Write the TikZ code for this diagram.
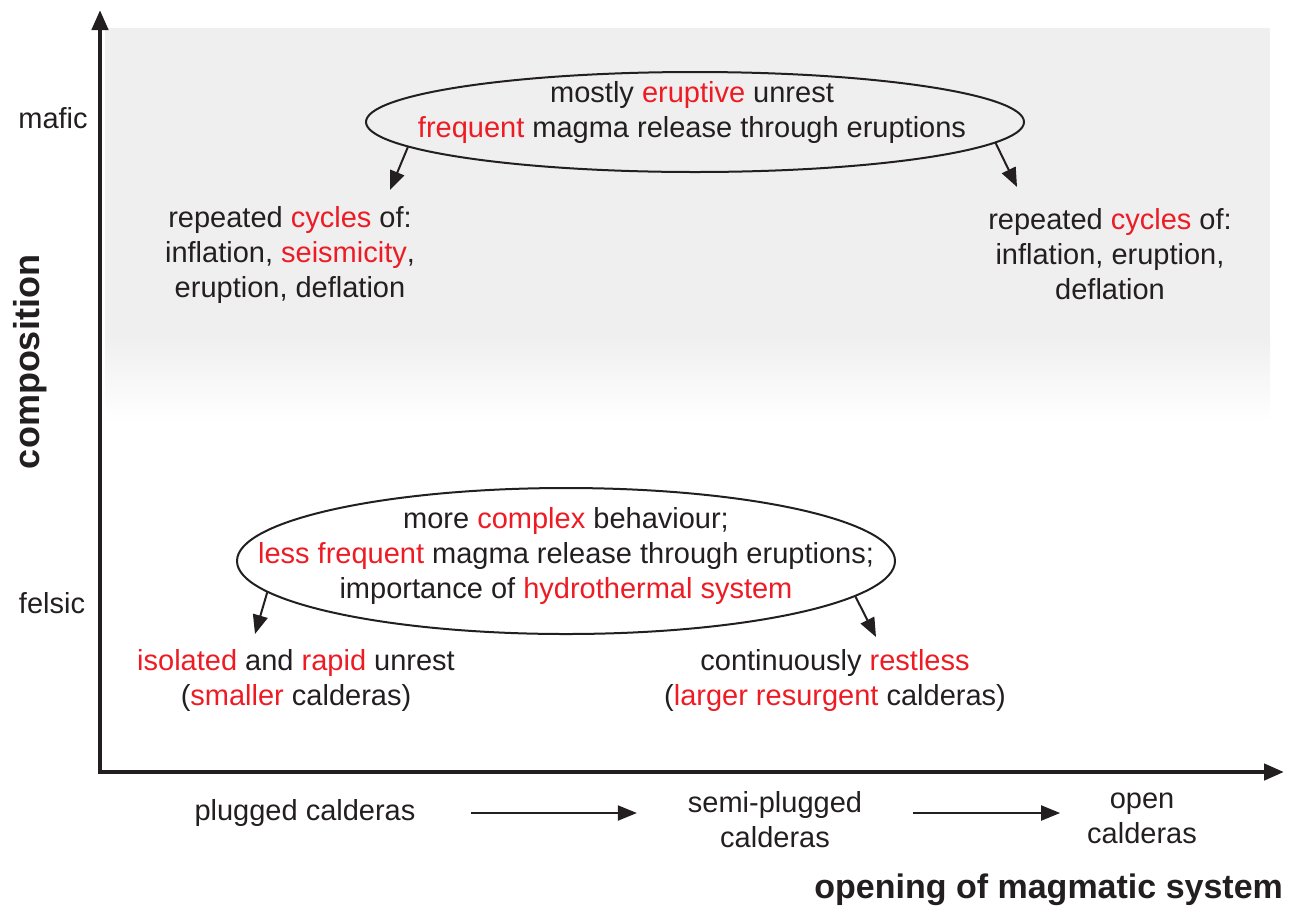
\documentclass[tikz,border=0pt]{standalone}
\usepackage{fontspec}
\setmainfont{Liberation Sans}
\usetikzlibrary{shapes.geometric,arrows.meta}
\definecolor{hired}{RGB}{237,28,36}
\definecolor{ink}{RGB}{35,31,32}
\definecolor{bggray}{RGB}{239,239,239}
\newcommand{\hl}[1]{\textcolor{hired}{#1}}
\begin{document}
\begin{tikzpicture}[x=0.5pt,y=-0.5pt,
    every node/.style={font=\fontsize{14.5}{17.5}\selectfont,text=ink,align=center},
    oval/.style={ellipse,draw=ink,line width=1pt,inner sep=0pt},
    arr/.style={draw=ink,line width=1pt,-{Triangle[length=9.5pt,width=7.5pt]}},
    lbl/.style={font=\fontsize{17}{20}\selectfont\bfseries}]
    \useasboundingbox (0,0) rectangle (1304,911);
    \fill[bggray] (105,28) rectangle (1270,336);
    \shade[top color=bggray,bottom color=white] (105,335) rectangle (1270,422);
    \coordinate (O) at (100,772);
    \draw[ink,line width=2.2pt,{Triangle[length=10pt,width=8pt]}-{Triangle[length=10pt,width=8pt]}] (100,10) -- (O) -- (1284,772);
    \node[lbl,font=\fontsize{18}{20}\selectfont\bfseries,rotate=90] (compo) at (30,362) {composition};
    \node (mafic) at (53,118) {mafic};
    \node (felsic) at (52,603) {felsic};
    \node[oval,minimum width=329pt,minimum height=50pt] (eruptE) at (695,122) {};
    \node (eruptT) at (692,112) {mostly \hl{eruptive} unrest\\\hl{frequent} magma release through eruptions};
    \node (cycL) at (290,255) {repeated \hl{cycles} of:\\inflation, \hl{seismicity},\\eruption, deflation};
    \node (cycR) at (1110,254) {repeated \hl{cycles} of:\\inflation, eruption,\\deflation};
    \coordinate (cycLtip) at (390,190);
    \coordinate (cycRtip) at (1017,187);
    \draw[arr] (eruptE.185) -- (cycLtip);
    \draw[arr] (eruptE.-4) -- (cycRtip);
    \node[oval,minimum width=329pt,minimum height=73pt] (complexE) at (566,561) {};
    \node (complexT) at (566,556) {more \hl{complex} behaviour;\\\hl{less frequent} magma release through eruptions;\\importance of \hl{hydrothermal system}};
    \node (isol) at (296,680) {\hl{isolated} and \hl{rapid} unrest\\(\hl{smaller} calderas)};
    \node (restl) at (835,680) {continuously \hl{restless}\\(\hl{larger resurgent} calderas)};
    \coordinate (isoltip) at (255,634);
    \coordinate (restltip) at (876,637);
    \draw[arr] (complexE.186) -- (isoltip);
    \draw[arr] (complexE.-7) -- (restltip);
    \node (plug) at (305,813) {plugged calderas};
    \node (semi) at (775,820) {semi-plugged\\calderas};
    \node (open) at (1142,818) {open\\calderas};
    \draw[arr,shorten <=24pt,shorten >=22pt] (plug.east) -- (semi.west |- plug.east);
    \draw[arr,shorten <=22pt,shorten >=10pt] (semi.east |- plug.east) -- (open.west |- plug.east);
    \node[lbl,anchor=east] (opening) at (1290,890) {opening of magmatic system};
\end{tikzpicture}
\end{document}
